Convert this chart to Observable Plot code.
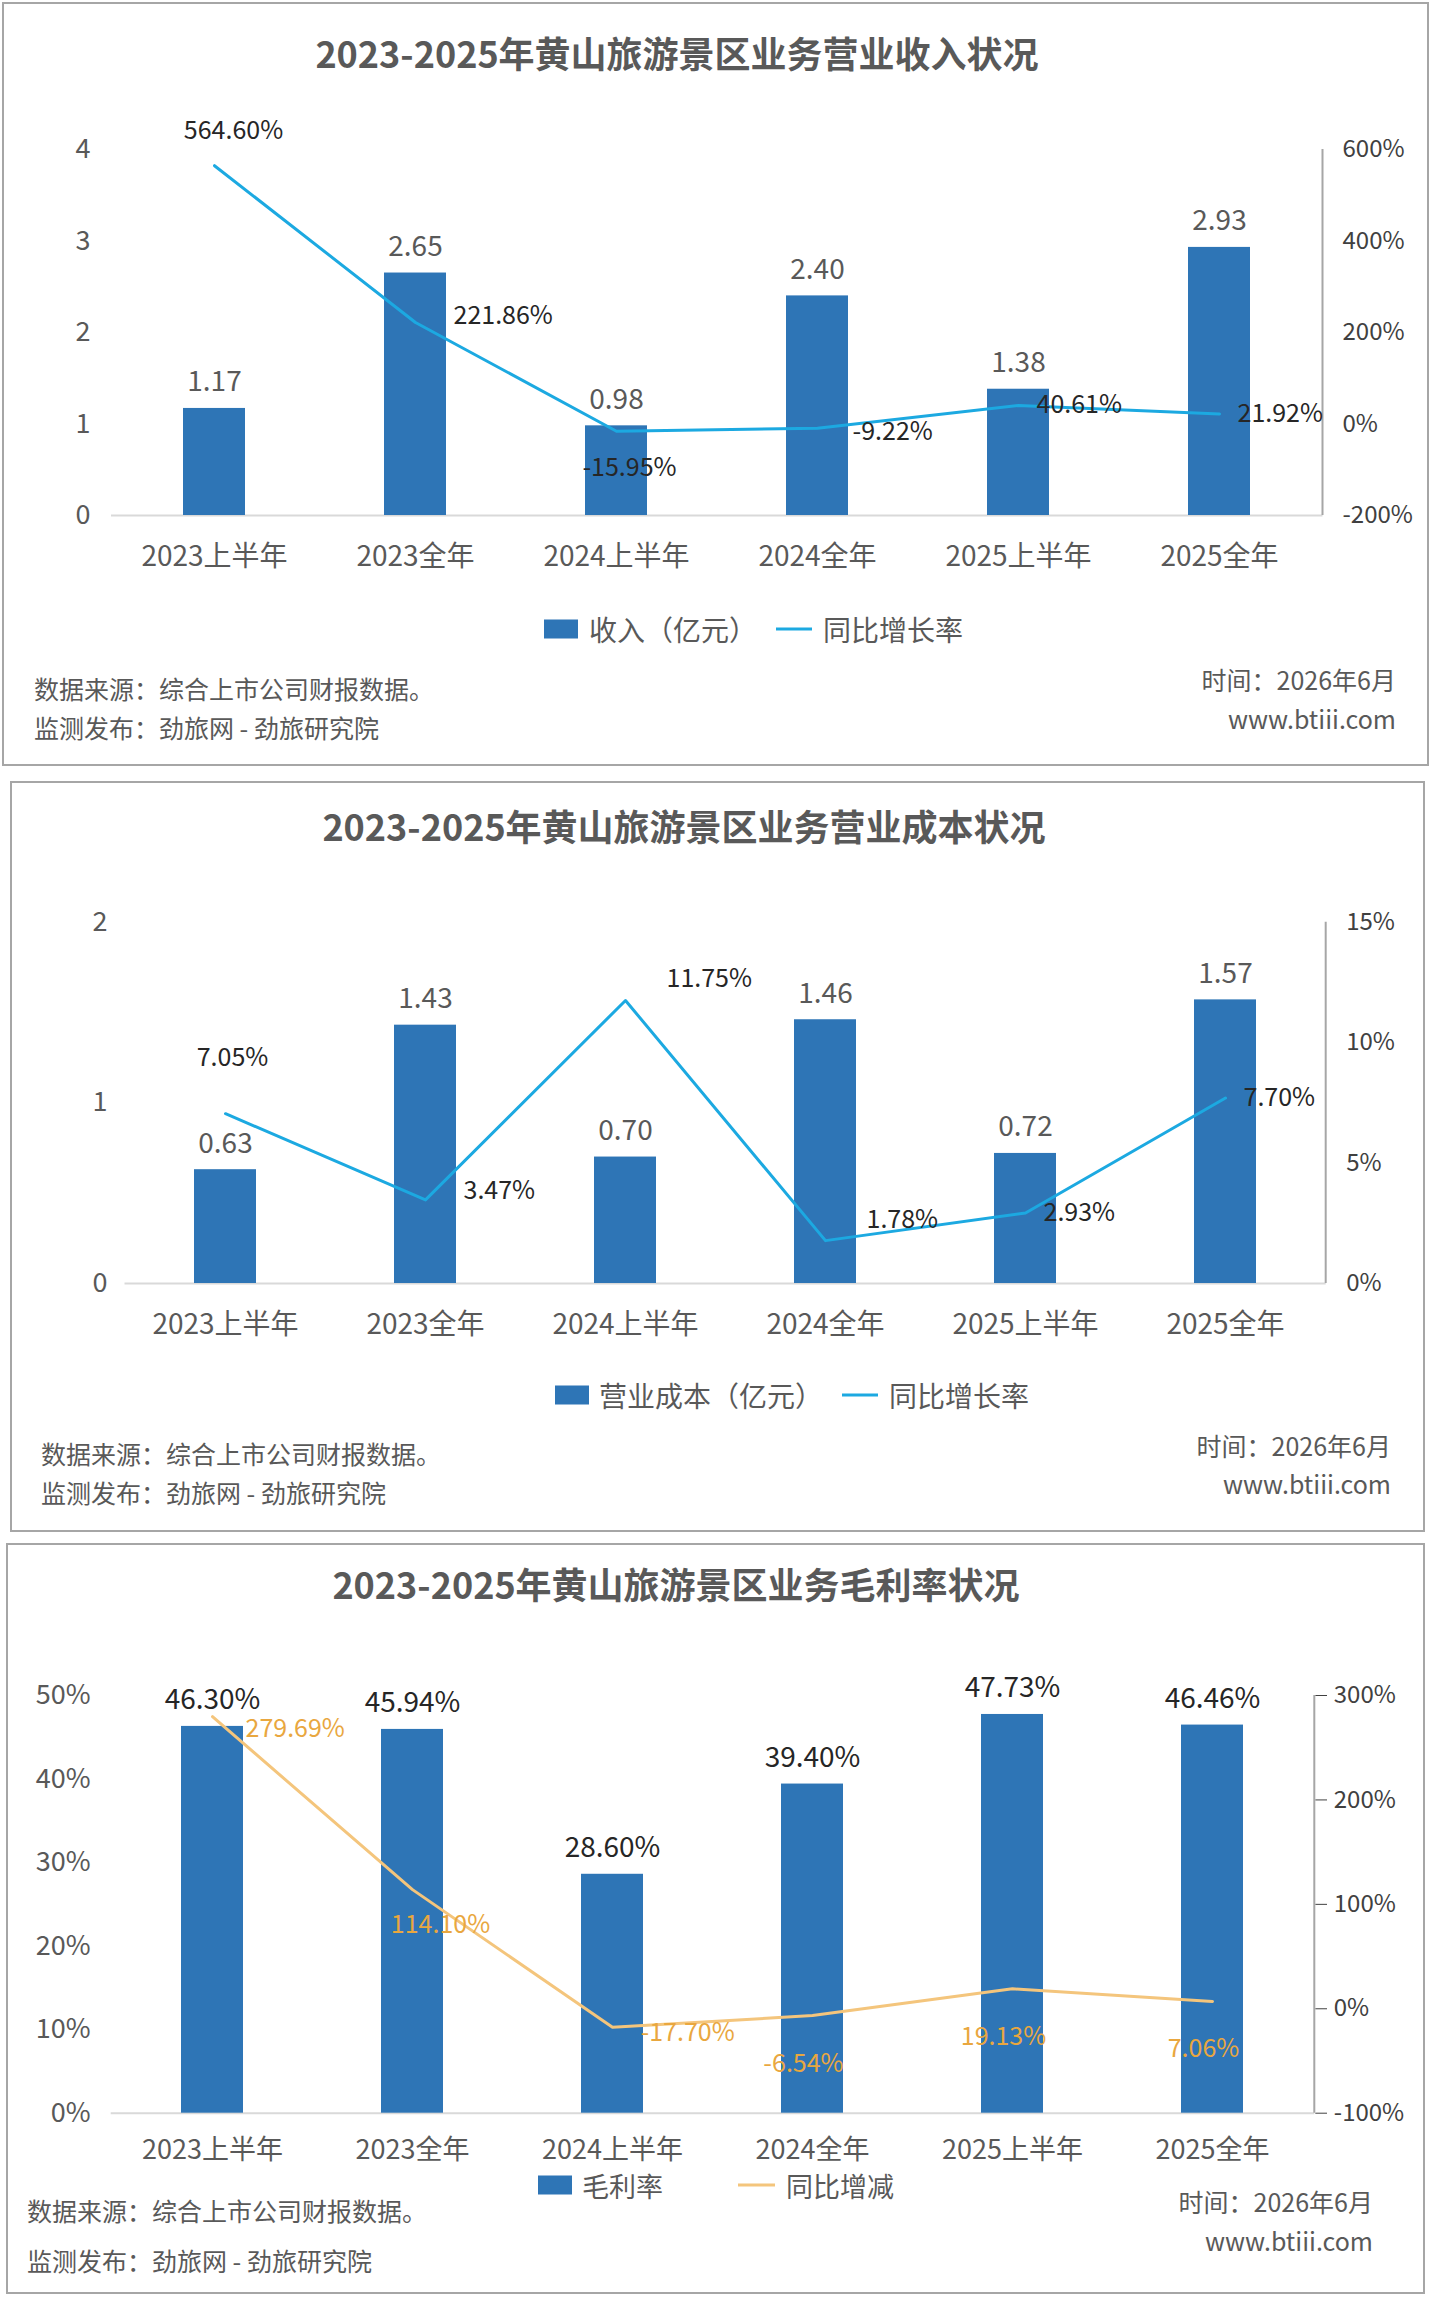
<!DOCTYPE html>
<html>
<head>
<meta charset="utf-8">
<script src="https://cdn.jsdelivr.net/npm/d3@7"></script>
<script src="https://cdn.jsdelivr.net/npm/@observablehq/plot@0.6"></script>
<style>
  html, body { margin: 0; padding: 0; background: #fff; }
  body { font-family: "Noto Sans CJK SC", "Noto Sans", sans-serif; }
  #page { position: relative; width: 1434px; height: 2302px; overflow: hidden; background: #fff; }
  .panel { position: absolute; border: 2px solid #a6a6a6; box-sizing: border-box; }
  .t { position: absolute; white-space: nowrap; line-height: 1; }
  .title { font-weight: bold; font-size: 36px; color: #595959; transform: translate(-50%, -50%); }
  .foot { font-size: 25px; color: #595959; transform: translateY(-50%); }
  .footr { font-size: 25px; color: #595959; transform: translate(-100%, -50%); }
  .leg { font-size: 28px; color: #595959; transform: translateY(-50%); }
  .sw { position: absolute; transform: translateY(-50%); }
  .chart { position: absolute; left: 0; }
</style>
</head>
<body>
<div id="page">
  <div class="panel" style="left:2px;top:2px;width:1427px;height:764px;"></div>
  <div class="panel" style="left:10px;top:781px;width:1415px;height:751px;"></div>
  <div class="panel" style="left:6px;top:1543px;width:1419px;height:751px;"></div>

  <div class="t title" style="left:677px;top:52px;">2023-2025年黄山旅游景区业务营业收入状况</div>
  <div class="t title" style="left:684px;top:825px;">2023-2025年黄山旅游景区业务营业成本状况</div>
  <div class="t title" style="left:676px;top:1583px;">2023-2025年黄山旅游景区业务毛利率状况</div>

  <div id="c1" class="chart" style="top:100px;"></div>
  <div id="c2" class="chart" style="top:870px;"></div>
  <div id="c3" class="chart" style="top:1650px;"></div>

  <!-- legends -->
  <div class="sw" style="left:544px;top:629px;width:34px;height:19px;background:#2E75B6;"></div>
  <div class="t leg" style="left:589px;top:629px;">收入（亿元）</div>
  <div class="sw" style="left:776px;top:629px;width:36px;height:3px;background:#1CA9E1;"></div>
  <div class="t leg" style="left:823px;top:629px;">同比增长率</div>

  <div class="sw" style="left:555px;top:1395px;width:34px;height:19px;background:#2E75B6;"></div>
  <div class="t leg" style="left:599px;top:1395px;">营业成本（亿元）</div>
  <div class="sw" style="left:842px;top:1395px;width:36px;height:3px;background:#1CA9E1;"></div>
  <div class="t leg" style="left:889px;top:1395px;">同比增长率</div>

  <div class="sw" style="left:538px;top:2185px;width:34px;height:19px;background:#2E75B6;"></div>
  <div class="t leg" style="left:582px;top:2185px;font-size:27px;">毛利率</div>
  <div class="sw" style="left:738px;top:2185px;width:37px;height:3px;background:#F4C57C;"></div>
  <div class="t leg" style="left:786px;top:2185px;font-size:27px;">同比增减</div>

  <!-- footers -->
  <div class="t foot" style="left:34px;top:688px;">数据来源：综合上市公司财报数据。</div>
  <div class="t foot" style="left:34px;top:727px;">监测发布：劲旅网 - 劲旅研究院</div>
  <div class="t footr" style="left:1396px;top:679px;">时间：2026年6月</div>
  <div class="t footr" style="left:1396px;top:718px;">www.btiii.com</div>

  <div class="t foot" style="left:41px;top:1453px;">数据来源：综合上市公司财报数据。</div>
  <div class="t foot" style="left:41px;top:1492px;">监测发布：劲旅网 - 劲旅研究院</div>
  <div class="t footr" style="left:1391px;top:1445px;">时间：2026年6月</div>
  <div class="t footr" style="left:1391px;top:1483px;">www.btiii.com</div>

  <div class="t foot" style="left:27px;top:2210px;">数据来源：综合上市公司财报数据。</div>
  <div class="t foot" style="left:27px;top:2260px;">监测发布：劲旅网 - 劲旅研究院</div>
  <div class="t footr" style="left:1373px;top:2201px;">时间：2026年6月</div>
  <div class="t footr" style="left:1373px;top:2240px;">www.btiii.com</div>
</div>

<script>
// ---------- data ----------
const categories = ["2023上半年", "2023全年", "2024上半年", "2024全年", "2025上半年", "2025全年"];

const revenue = [1.17, 2.65, 0.98, 2.40, 1.38, 2.93];            // 亿元
const revenueYoY = [564.60, 221.86, -15.95, -9.22, 40.61, 21.92]; // %
const revenueLeftTicks = [0, 1, 2, 3, 4];
const revenueRightTicks = [-200, 0, 200, 400, 600];

const cost = [0.63, 1.43, 0.70, 1.46, 0.72, 1.57];               // 亿元
const costYoY = [7.05, 3.47, 11.75, 1.78, 2.93, 7.70];           // %
const costLeftTicks = [0, 1, 2];
const costRightTicks = [0, 5, 10, 15];

const grossMargin = [46.30, 45.94, 28.60, 39.40, 47.73, 46.46];   // %
const grossMarginYoY = [279.69, 114.10, -17.70, -6.54, 19.13, 7.06]; // %
const marginLeftTicks = [0, 10, 20, 30, 40, 50];
const marginRightTicks = [-100, 0, 100, 200, 300];

// label placement keywords (styling only)
const revenuePlaces = ["above", "rightUp", "below", "rightDown", "right", "right"];
const costPlaces = ["above", "rightUp", "upRight", "upRight", "right", "right"];
const marginPlaces = ["rightDown", "belowRight", "right", "below", "below", "below"];

const FONT = '"Noto Sans CJK SC", "Noto Sans", sans-serif';

function makeChart(cfg) {
  const toLeft = d3.scaleLinear(cfg.rightDomain, cfg.leftDomain);
  const rows = categories.map((c, i) => ({
    cat: c, bar: cfg.bars[i], yoy: cfg.yoy[i], yl: toLeft(cfg.yoy[i]), place: cfg.places[i]
  }));
  const axisLine = (index, scales, values, dims) => {
    const x = dims.width - dims.marginRight;
    return d3.create("svg:line")
      .attr("x1", x).attr("x2", x)
      .attr("y1", dims.marginTop).attr("y2", dims.height - dims.marginBottom)
      .attr("stroke", "#a6a6a6").attr("stroke-width", 2).node();
  };
  const labelMarks = Object.entries(cfg.placeStyle).map(([key, s]) =>
    Plot.text(rows.filter(d => d.place === key), {
      x: "cat", y: "yl", text: d => d.yoy.toFixed(2) + "%",
      dx: s.dx, dy: s.dy, textAnchor: s.anchor, fontSize: 25, fill: cfg.lineLabelColor
    })
  );
  return Plot.plot({
    width: 1434,
    height: cfg.height,
    marginTop: cfg.mt, marginBottom: cfg.mb, marginLeft: cfg.ml, marginRight: cfg.mr,
    style: { fontFamily: FONT, background: "none", overflow: "visible" },
    x: { domain: categories, paddingInner: 0.69, paddingOuter: 0.345 },
    y: { domain: cfg.leftDomain },
    marks: [
      Plot.ruleY([0], { stroke: "#d9d9d9", strokeWidth: 2 }),
      Plot.barY(rows, { x: "cat", y: "bar", fill: "#2E75B6" }),
      Plot.axisX({ tickSize: 0, tickPadding: cfg.xPad, fontSize: cfg.xFont, color: "#595959", label: null }),
      Plot.axisY(cfg.leftTicks, { anchor: "left", tickSize: 0, tickPadding: cfg.lPad, tickFormat: cfg.leftFmt, fontSize: 27, color: "#595959", label: null }),
      Plot.axisY(cfg.rightTicks.map(toLeft), { anchor: "right", tickSize: cfg.rTick, tickPadding: cfg.rPad, tickFormat: d => Math.round(toLeft.invert(d)) + "%", fontSize: 24, color: "#404040", label: null }),
      axisLine,
      Plot.lineY(rows, { x: "cat", y: "yl", stroke: cfg.lineColor, strokeWidth: 3 }),
      Plot.text(rows, { x: "cat", y: "bar", text: d => cfg.barFmt(d.bar), dy: -26, fontSize: 28, fill: cfg.barLabelColor }),
      ...labelMarks
    ]
  });
}

document.getElementById("c1").append(makeChart({
  bars: revenue, yoy: revenueYoY, places: revenuePlaces,
  leftDomain: [0, 4], rightDomain: [-200, 600],
  leftTicks: revenueLeftTicks, rightTicks: revenueRightTicks,
  leftFmt: d => String(d), barFmt: v => v.toFixed(2),
  height: 490, mt: 49, mb: 75, ml: 111, mr: 111.5,
  xPad: 30.5, xFont: 28, lPad: 21, rPad: 19.5, rTick: 0,
  lineColor: "#1CA9E1", lineLabelColor: "#262626", barLabelColor: "#595959",
  placeStyle: {
    above: { dx: 19, dy: -35, anchor: "middle" },
    rightUp: { dx: 38, dy: -6, anchor: "start" },
    below: { dx: 13, dy: 37, anchor: "middle" },
    rightDown: { dx: 35, dy: 4, anchor: "start" },
    right: { dx: 18, dy: 0, anchor: "start" }
  }
}));

document.getElementById("c2").append(makeChart({
  bars: cost, yoy: costYoY, places: costPlaces,
  leftDomain: [0, 2], rightDomain: [0, 15],
  leftTicks: costLeftTicks, rightTicks: costRightTicks,
  leftFmt: d => String(d), barFmt: v => v.toFixed(2),
  height: 500, mt: 51.7, mb: 87, ml: 124.5, mr: 108.3,
  xPad: 30.5, xFont: 28, lPad: 17.5, rPad: 20, rTick: 0,
  lineColor: "#1CA9E1", lineLabelColor: "#262626", barLabelColor: "#595959",
  placeStyle: {
    above: { dx: 7, dy: -56, anchor: "middle" },
    rightUp: { dx: 38, dy: -9, anchor: "start" },
    upRight: { dx: 41, dy: -21, anchor: "start" },
    right: { dx: 18, dy: 0, anchor: "start" }
  }
}));

document.getElementById("c3").append(makeChart({
  bars: grossMargin, yoy: grossMarginYoY, places: marginPlaces,
  leftDomain: [0, 50], rightDomain: [-100, 300],
  leftTicks: marginLeftTicks, rightTicks: marginRightTicks,
  leftFmt: d => d + "%", barFmt: v => v.toFixed(2) + "%",
  height: 540, mt: 45, mb: 77.3, ml: 110.7, mr: 119.7,
  xPad: 27, xFont: 27, lPad: 20.7, rPad: 7.3, rTick: 11.7,
  lineColor: "#F4C57C", lineLabelColor: "#E9A73F", barLabelColor: "#262626",
  placeStyle: {
    rightDown: { dx: 33, dy: 12, anchor: "start" },
    belowRight: { dx: 28, dy: 35, anchor: "middle" },
    right: { dx: 28, dy: 6, anchor: "start" },
    below: { dx: -9, dy: 48, anchor: "middle" }
  }
}));
</script>
</body>
</html>
